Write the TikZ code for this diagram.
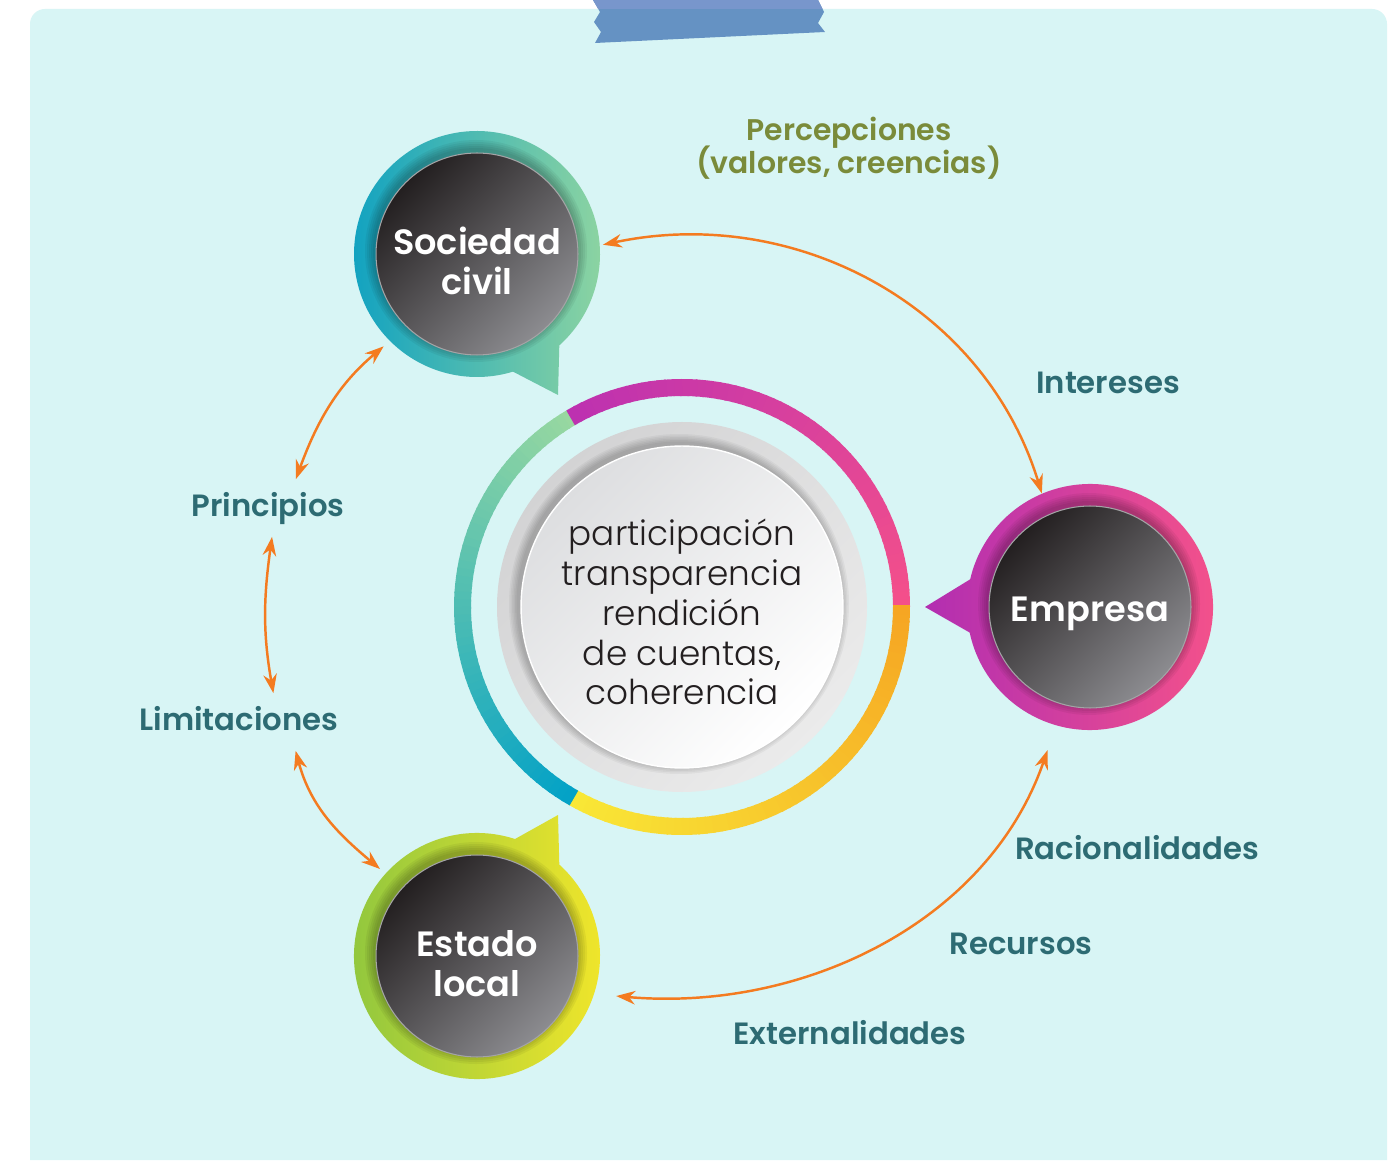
\documentclass[tikz,border=0pt]{standalone}
\usepackage{fontspec}
\setmainfont{Poppins}[BoldFont={* SemiBold}]
\newfontfamily\lightfont{Poppins}[UprightFont={* Light}]
\usetikzlibrary{arrows.meta,calc}
\definecolor{panelbg}{HTML}{D8F5F5}
\definecolor{ribbon}{HTML}{6592C3}
\definecolor{ribbontop}{HTML}{7896CC}
\definecolor{lblteal}{HTML}{2D6B73}
\definecolor{percolive}{HTML}{7A8B3A}
\definecolor{arrorange}{HTML}{F47B20}
\definecolor{diskdark}{HTML}{231F20}
\definecolor{disklight}{HTML}{8C8C90}
\definecolor{diskrim}{HTML}{A4A4A6}
\definecolor{segmag}{HTML}{BD31B0}
\definecolor{segpink}{HTML}{F4508A}
\definecolor{segorange}{HTML}{F6A623}
\definecolor{segyellow}{HTML}{F9E836}
\definecolor{segblue}{HTML}{04A2C6}
\definecolor{seggreen}{HTML}{98D8A0}
\definecolor{greyA}{HTML}{D3D3D4}
\definecolor{greyB}{HTML}{EBEBEB}
\definecolor{coreA}{HTML}{DDDEE0}
\definecolor{socL}{HTML}{0CA0C2}
\definecolor{socR}{HTML}{92D6A0}
\definecolor{empL}{HTML}{B22EB1}
\definecolor{empR}{HTML}{F5528A}
\definecolor{estL}{HTML}{8DC63F}
\definecolor{estR}{HTML}{F2E62A}
\definecolor{coretext}{HTML}{231F20}
\begin{document}
\begin{tikzpicture}[x=0.02cm, y=0.02cm,
  ringnode/.style={circle, minimum size=4.92cm, inner sep=0pt},
  disk/.style={circle, minimum size=4.04cm, inner sep=0pt, draw=diskrim, line width=0.6pt,
    top color=diskdark, bottom color=disklight, shading angle=45},
  disktext/.style={text=white, align=center, font=\bfseries\fontsize{20}{22.7}\selectfont},
  core/.style={circle, minimum size=6.44cm, inner sep=0pt, draw=white, line width=0.8pt,
    top color=coreA, bottom color=white, shading angle=45},
  coretxt/.style={text=coretext, align=center, font=\lightfont\fontsize{19.5}{22.7}\selectfont},
  lbl/.style={text=lblteal, font=\bfseries\fontsize{17.5}{20}\selectfont,
    inner xsep=0.24cm, inner ysep=0.28cm, text height=0.46cm, text depth=0.12cm},
  perc/.style={text=percolive, align=center, font=\bfseries\fontsize{17}{17.6}\selectfont},
  flecha/.style={draw=arrorange, line width=1.4pt, >={Stealth[length=0.38cm, width=0.27cm]}, <->},
  ringseg/.style={line width=0.34cm}]
\useasboundingbox (0,0) rectangle (1391,1160);
\fill[white] (0,0) rectangle (1391,1160);
\fill[panelbg] (30,0) -- (30,1136) arc[start angle=180, end angle=90, radius=15]
  -- (1372,1151) arc[start angle=90, end angle=0, radius=15] -- (1387,0) -- cycle;
\fill[ribbon] (593,1160) -- (600,1148) -- (594,1138) -- (601,1128) -- (595,1117)
  -- (825,1128) -- (818,1137) -- (824,1148) -- (818,1160) -- cycle;
\begin{scope}
\clip (0,1151) rectangle (1391,1160);
\fill[ribbontop] (593,1160) -- (600,1148) -- (594,1138) -- (601,1128) -- (595,1117)
  -- (825,1128) -- (818,1137) -- (824,1148) -- (818,1160) -- cycle;
\end{scope}

\coordinate (ctr) at (682,553);
\foreach \i in {0,...,59}{
  \pgfmathtruncatemacro\mix{100-100*\i/59}
  \draw[ringseg, draw={segpink!\mix!segmag}] (ctr) ++({2*\i}:219.5) arc[start angle={2*\i}, end angle={2*\i+2.5}, radius=219.5];
  \draw[ringseg, draw={seggreen!\mix!segblue}] (ctr) ++({120+2*\i}:219.5) arc[start angle={120+2*\i}, end angle={120+2*\i+2.5}, radius=219.5];
  \draw[ringseg, draw={segyellow!\mix!segorange}] (ctr) ++({240+2*\i}:219.5) arc[start angle={240+2*\i}, end angle={240+2*\i+2.5}, radius=219.5];
}
\shade[top color=greyA, bottom color=greyB, shading angle=45] (ctr) circle (185);
\foreach \k in {1,...,6}
  \fill[black, opacity=0.04] ($(ctr)+(-3,3)$) circle ({161+1.5*\k});
\node[core] (core) at (ctr) {};
\node[coretxt] (coretext) at ($(ctr)+(0,-5)$) {participación\\transparencia\\rendición\\de cuentas,\\coherencia};

\node[ringnode] (soc) at (477,906) {};
\shade[left color=socL, right color=socR] ($(soc.center)+(-48:123)$)
  arc[start angle=-48, end angle=287, radius=123] -- ($(soc.center)+(81,-141)$) -- cycle;
\foreach \k in {1,...,5}
  \fill[black, opacity=0.05] ($(soc.center)+(-1,3)$) circle ({101+2*\k});
\node[disk] (socdisk) at (soc.center) {};
\node[disktext] (soctext) at ($(soc.center)+(0,-7)$) {Sociedad\\civil};

\node[ringnode] (emp) at (1090,553) {};
\shade[left color=empL, right color=empR] ($(emp.center)+(192:123)$)
  arc[start angle=192, end angle=527, radius=123] -- ($(emp.center)+(-165,0)$) -- cycle;
\foreach \k in {1,...,5}
  \fill[black, opacity=0.05] ($(emp.center)+(-1,3)$) circle ({101+2*\k});
\node[disk] (empdisk) at (emp.center) {};
\node[disktext] (emptext) at ($(emp.center)+(0,-7)$) {Empresa};

\node[ringnode] (est) at (477,204) {};
\shade[left color=estL, right color=estR] ($(est.center)+(72:123)$)
  arc[start angle=72, end angle=408, radius=123] -- ($(est.center)+(81,141)$) -- cycle;
\foreach \k in {1,...,5}
  \fill[black, opacity=0.05] ($(est.center)+(-1,3)$) circle ({101+2*\k});
\node[disk] (estdisk) at (est.center) {};
\node[disktext] (esttext) at ($(est.center)+(0,-8)$) {Estado\\local};

\node[perc] (percep) at (849,1012) {Percepciones\\[-2.3pt](valores, creencias)};
\node[lbl] (intr) at (1108,775) {Intereses};
\node[lbl] (prin) at (268,652) {Principios};
\node[lbl] (limi) at (239,438) {Limitaciones};
\node[lbl] (raci) at (1137,309) {Racionalidades};
\node[lbl] (recu) at (1021,214) {Recursos};
\node[lbl] (exte) at (850,124) {Externalidades};

\draw[flecha, shorten <=0.06cm] (soc.4) to[out=12, in=107] (emp.113);
\draw[flecha, shorten <=0.16cm] (soc.225) to[out=220, in=70] (prin.46);
\draw[flecha] (prin.-82) to[out=-98, in=100] (limi.40);
\draw[flecha, shorten >=0.14cm] (limi.-27) to[out=-75, in=140] (est.138);
\draw[flecha, shorten <=0.52cm, shorten >=0.44cm] (emp.254) to[out=-109, in=-5] (est.-18);
\end{tikzpicture}
\end{document}
